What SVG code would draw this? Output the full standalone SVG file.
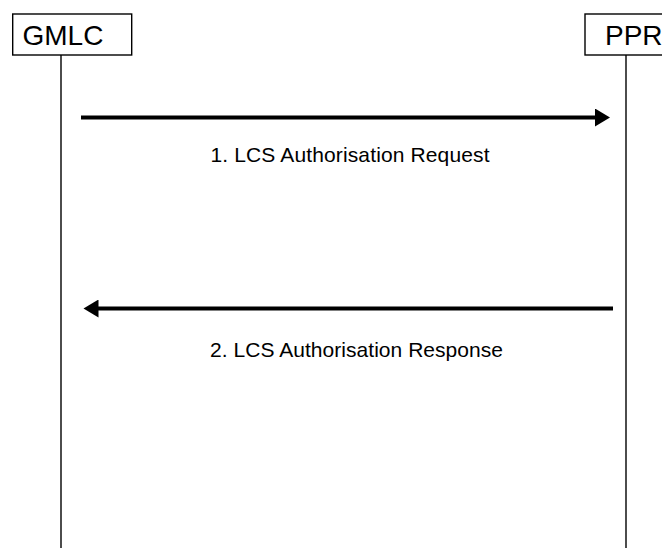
<svg xmlns="http://www.w3.org/2000/svg" width="662" height="548" viewBox="0 0 662 548">
  <style>
    .box { fill: #ffffff; stroke: #000000; stroke-width: 1.4; }
    .life { stroke: #000000; stroke-width: 1.4; fill: none; }
    .msg { stroke: #000000; stroke-width: 4; fill: none; }
    .name { font-family: "Liberation Sans", Arial, sans-serif; font-size: 28px; fill: #000000; }
    .label { font-family: "Liberation Sans", Arial, sans-serif; font-size: 21px; fill: #000000; }
  </style>
  <defs>
    <marker id="head" markerUnits="userSpaceOnUse" markerWidth="16" markerHeight="18" refX="2" refY="9" orient="auto">
      <path d="M0,0 L15,9 L0,18 Z" fill="#000000"/>
    </marker>
  </defs>
  <rect width="662" height="548" fill="#ffffff"/>
  <g id="gmlc">
    <line class="life" x1="61" y1="55" x2="61" y2="548"/>
    <rect class="box" x="12.7" y="14" width="119" height="41"/>
    <text class="name" x="22.5" y="45">GMLC</text>
  </g>
  <g id="ppr">
    <line class="life" x1="626" y1="55" x2="626" y2="548"/>
    <rect class="box" x="585" y="14" width="119" height="41"/>
    <text class="name" x="605" y="45">PPR</text>
  </g>
  <g id="connectors">
    <g id="msg1">
      <line class="msg" x1="81" y1="117.5" x2="597" y2="117.5" marker-end="url(#head)"/>
      <text class="label" x="210.5" y="162" textLength="279">1. LCS Authorisation Request</text>
    </g>
    <g id="msg2">
      <line class="msg" x1="613" y1="308.5" x2="96.5" y2="308.5" marker-end="url(#head)"/>
      <text class="label" x="210" y="357" textLength="293">2. LCS Authorisation Response</text>
    </g>
  </g>
</svg>
